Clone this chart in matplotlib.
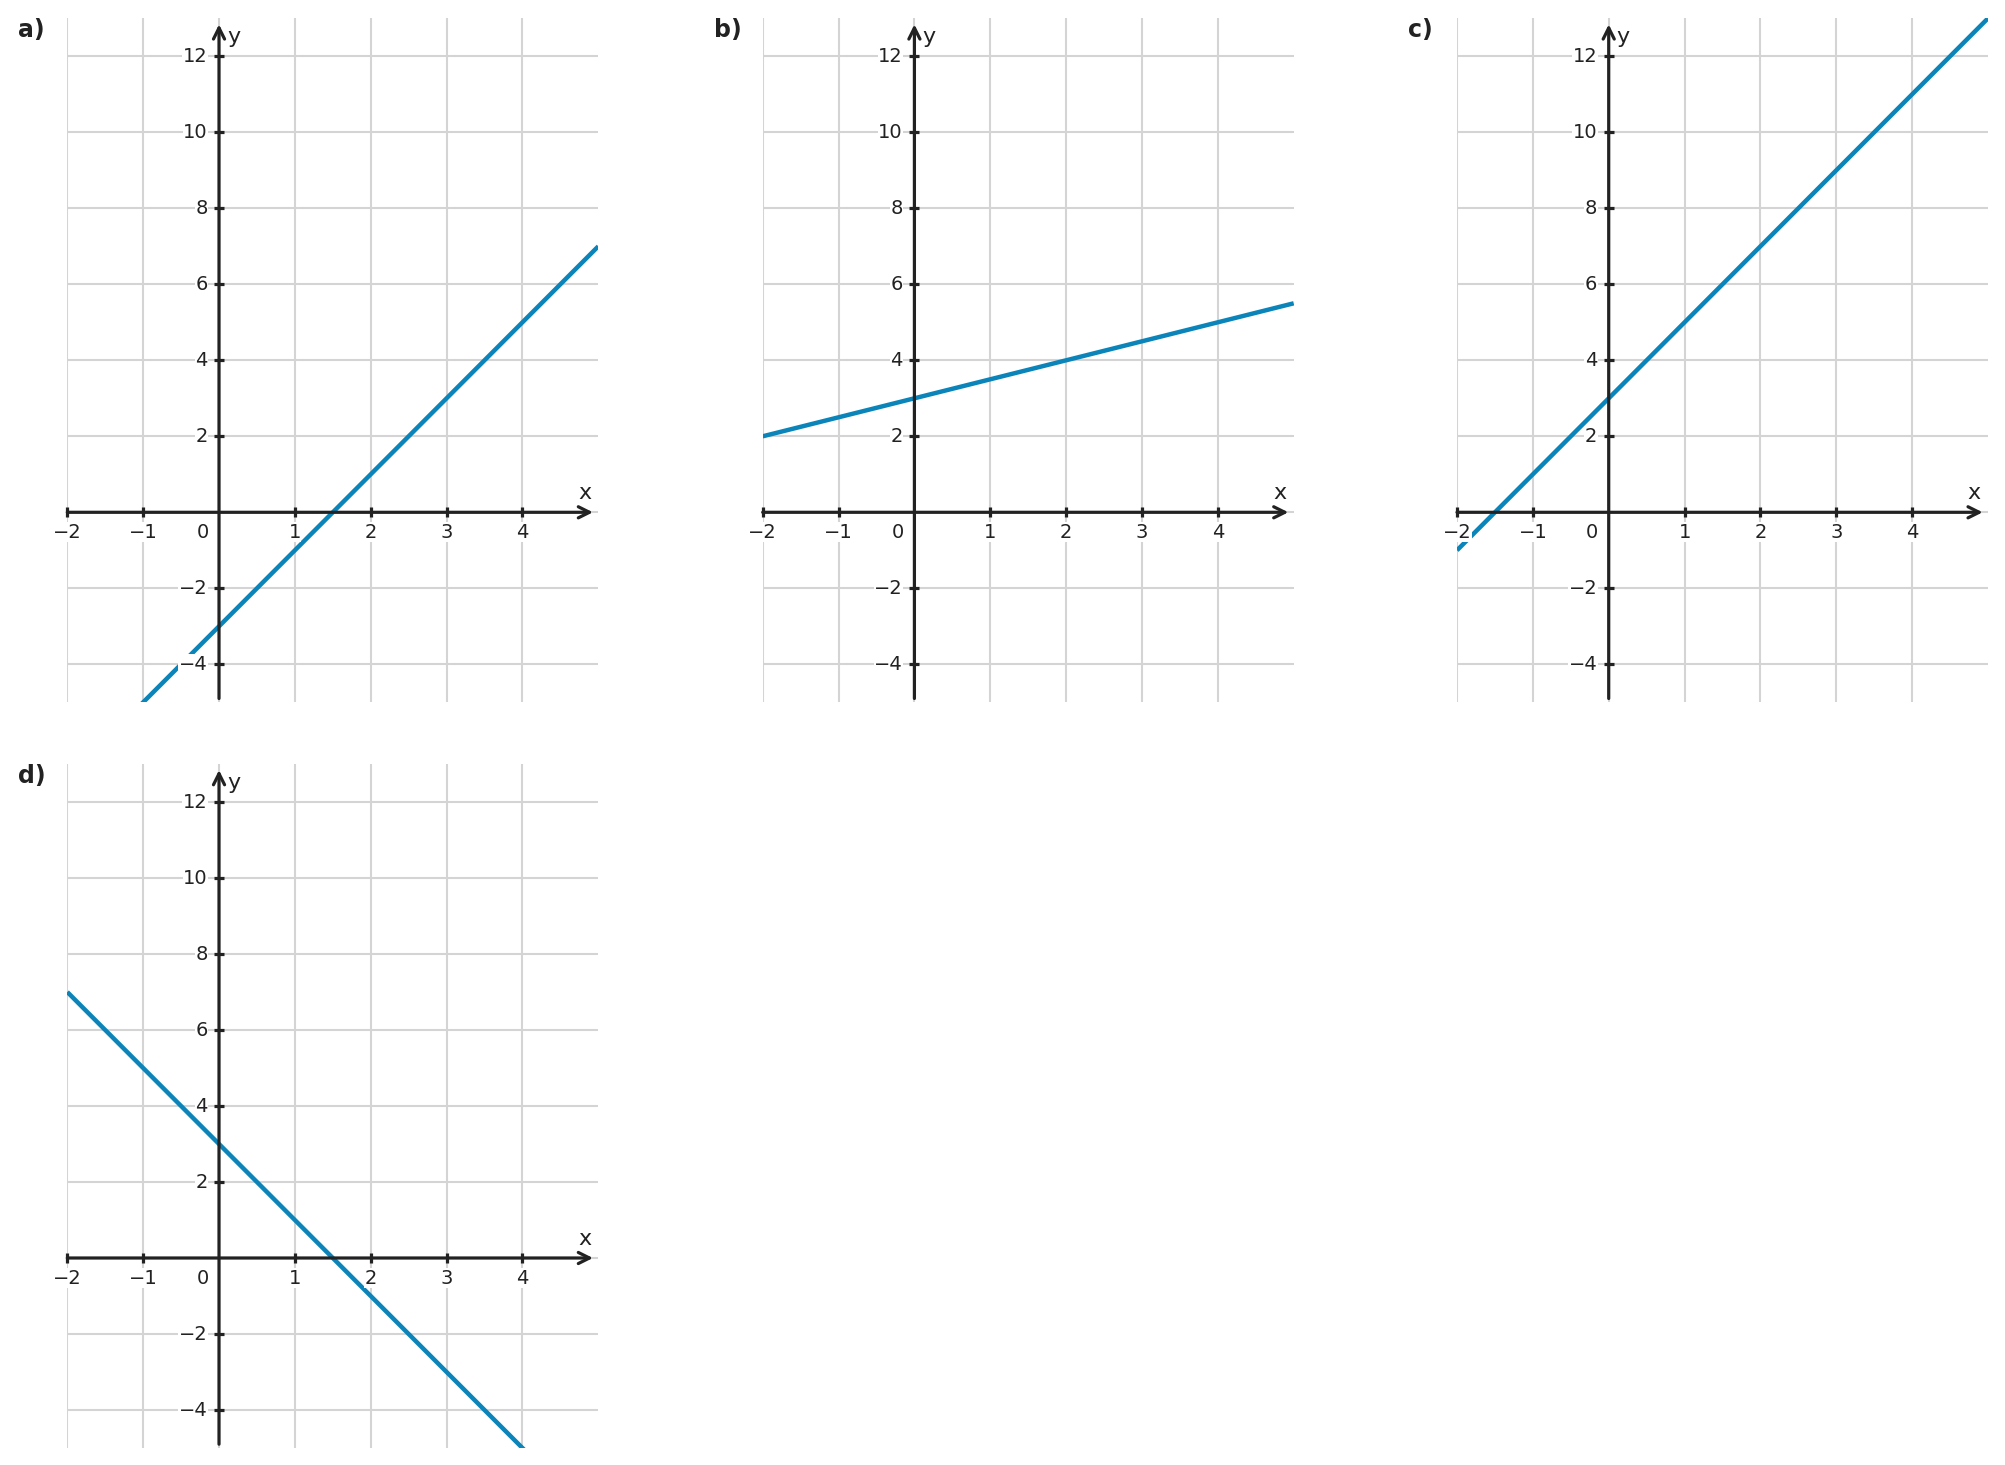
import matplotlib
matplotlib.use("Agg")
import matplotlib.pyplot as plt
import numpy as np

# ---- data ----
panel_names = ["a)", "b)", "c)", "d)"]
line_x = [-2, 5]
line_y_a = [-7, 7]
line_y_b = [2, 5.5]
line_y_c = [-1, 13]
line_y_d = [7, -7]
panel_lines = [line_y_a, line_y_b, line_y_c, line_y_d]

x_ticks = [-2, -1, 1, 2, 3, 4]
y_ticks = [-4, -2, 2, 4, 6, 8, 10, 12]
x_grid = [-2, -1, 0, 1, 2, 3, 4]
y_grid = [-4, -2, 0, 2, 4, 6, 8, 10, 12]
x_lim = (-2, 5)
y_lim = (-5, 13)

# ---- style ----
W, H = 2005, 1465
DPI = 100
BLUE = "#0A84B9"
DARK = "#222222"
GRID = "#d4d4d4"
PT = 72.0 / DPI  # points per pixel

fig = plt.figure(figsize=(W / DPI, H / DPI), dpi=DPI)

# panel positions in pixels: (left, top)
pos_px = [(67.3, 18.3), (762.7, 18.3), (1457.0, 18.3), (67.3, 764.0)]
aw, ah = 531.0, 684.0

lab_kw = dict(color=DARK, fontsize=14, zorder=6,
              bbox=dict(facecolor="white", edgecolor="none", pad=0.3))

for name, yv, (lpx, tpx) in zip(panel_names, panel_lines, pos_px):
    ax = fig.add_axes([lpx / W, 1 - (tpx + ah) / H, aw / W, ah / H])
    ax.set_xlim(*x_lim)
    ax.set_ylim(*y_lim)
    for s in ax.spines.values():
        s.set_visible(False)
    ax.set_xticks([])
    ax.set_yticks([])
    for gx in x_grid:
        ax.axvline(gx, color=GRID, lw=1.5, zorder=1)
    for gy in y_grid:
        ax.axhline(gy, color=GRID, lw=1.5, zorder=1)

    # function line
    ax.plot(line_x, yv, color=BLUE, lw=3.2, zorder=3, solid_capstyle="butt")

    # axes with arrows
    ax.annotate("", xy=(4.93, 0), xytext=(-2, 0),
                arrowprops=dict(arrowstyle="->", lw=2.3, color=DARK,
                                mutation_scale=20, shrinkA=0, shrinkB=0),
                zorder=4)
    ax.annotate("", xy=(0, 12.84), xytext=(0, -4.9),
                arrowprops=dict(arrowstyle="->", lw=2.3, color=DARK,
                                mutation_scale=20, shrinkA=0, shrinkB=0),
                zorder=4)

    # tick marks
    ax.plot(x_ticks, [0] * len(x_ticks), linestyle="none", marker="|",
            markersize=10 * PT, markeredgewidth=2.3, color=DARK, zorder=4,
            clip_on=False)
    ax.plot([0] * len(y_ticks), y_ticks, linestyle="none", marker="_",
            markersize=10 * PT, markeredgewidth=2.3, color=DARK, zorder=4,
            clip_on=False)

    # tick labels
    for xt in x_ticks:
        ax.annotate(f"{xt}".replace("-", "\u2212"), xy=(xt, 0),
                    xytext=(0, -20 * PT), textcoords="offset points",
                    ha="center", va="center", **lab_kw)
    ax.annotate("0", xy=(0, 0), xytext=(-16.6 * PT, -20 * PT),
                textcoords="offset points", ha="center", va="center", **lab_kw)
    for yt in y_ticks:
        ax.annotate(f"{yt}".replace("-", "\u2212"), xy=(0, yt),
                    xytext=(-11.5 * PT, 0), textcoords="offset points",
                    ha="right", va="center", **lab_kw)

    # axis names
    ax.annotate("x", xy=(4.82, 0), xytext=(0, 19 * PT), textcoords="offset points",
                ha="center", va="center", color=DARK, fontsize=16, zorder=6)
    ax.annotate("y", xy=(0, 12.5), xytext=(8 * PT, 0), textcoords="offset points",
                ha="left", va="center", color=DARK, fontsize=16, zorder=6)

    # panel label
    fig.text((lpx - 49) / W, 1 - (tpx + 0) / H, name, ha="left", va="top",
             fontsize=17, fontweight="bold", color=DARK)

fig.savefig("out.png", dpi=DPI, facecolor="white")
